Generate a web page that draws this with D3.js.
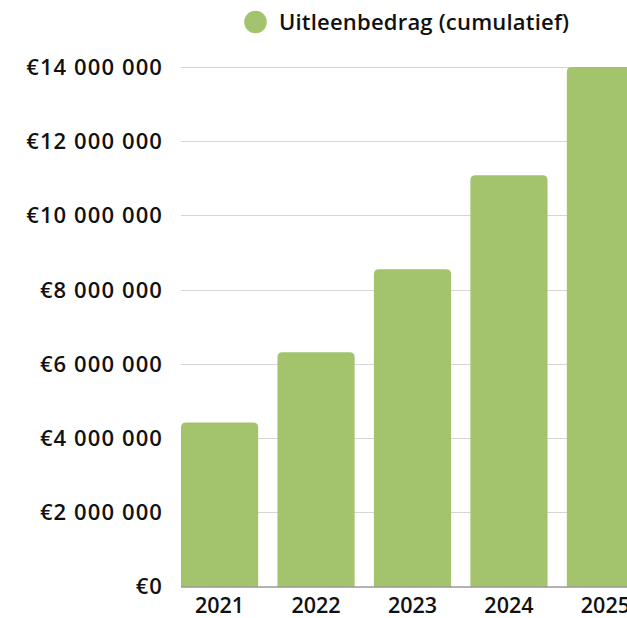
<!DOCTYPE html>
<html>
<head>
<meta charset="utf-8">
<script src="https://cdn.jsdelivr.net/npm/d3@7"></script>
<style>
  html, body { margin: 0; padding: 0; background: #fff; overflow: hidden; }
  svg { display: block; font-family: "Open Sans", Lato, "Noto Sans", sans-serif; }
</style>
</head>
<body>
<div id="chart"></div>
<script>
// data
const years = ["2021", "2022", "2023", "2024", "2025"];
const amounts = [4420000, 6310000, 8550000, 11080000, 14000000];
const yTicks = [0, 2000000, 4000000, 6000000, 8000000, 10000000, 12000000, 14000000];
const seriesName = "Uitleenbedrag (cumulatief)";

const W = 627, H = 618;
const margin = { top: 67, left: 181, bottom: 31.5 };
const plotRight = 644; // last bar runs past the window edge
const barColor = "#a3c46d";

const svg = d3.select("#chart").append("svg")
  .attr("width", W)
  .attr("height", H);

const euro = d3.formatLocale({ decimal: ",", thousands: " ", grouping: [3], currency: ["€", ""] });
const fmt = euro.format("$,.0f");

const x = d3.scaleBand()
  .domain(years)
  .range([margin.left, plotRight])
  .paddingInner(0.2)
  .paddingOuter(0);

const y = d3.scaleLinear()
  .domain([0, 14000000])
  .range([H - margin.bottom, margin.top]);

// gridlines
svg.append("g")
  .selectAll("line")
  .data(yTicks.slice(1))
  .join("line")
  .attr("x1", margin.left)
  .attr("x2", W)
  .attr("y1", d => Math.round(y(d)) + 0.5)
  .attr("y2", d => Math.round(y(d)) + 0.5)
  .attr("stroke", "#d6d6d6")
  .attr("stroke-width", 1);

// y labels
svg.append("g")
  .selectAll("text")
  .data(yTicks)
  .join("text")
  .attr("x", 163)
  .attr("y", d => y(d))
  .attr("dy", "0.36em")
  .attr("text-anchor", "end")
  .attr("font-size", 22)
  .attr("font-weight", 600)
  .attr("letter-spacing", 1.1)
  .attr("fill", "#111")
  .text(d => fmt(d));

// bars with rounded tops
const r = 5;
svg.append("g")
  .selectAll("path")
  .data(years.map((yr, i) => ({ year: yr, value: amounts[i] })))
  .join("path")
  .attr("fill", barColor)
  .attr("d", d => {
    const x0 = x(d.year), x1 = x0 + x.bandwidth();
    const y0 = y(0), y1 = y(d.value);
    return `M${x0},${y0}V${y1 + r}Q${x0},${y1} ${x0 + r},${y1}H${x1 - r}Q${x1},${y1} ${x1},${y1 + r}V${y0}Z`;
  });

// baseline
svg.append("line")
  .attr("x1", margin.left)
  .attr("x2", W)
  .attr("y1", y(0) + 0.5)
  .attr("y2", y(0) + 0.5)
  .attr("stroke", "#666")
  .attr("stroke-width", 1);

// x labels
svg.append("g")
  .selectAll("text")
  .data(years)
  .join("text")
  .attr("x", d => x(d) + x.bandwidth() / 2)
  .attr("y", 613)
  .attr("text-anchor", "middle")
  .attr("font-size", 21.5)
  .attr("font-weight", 600)
  .attr("fill", "#111")
  .text(d => d);

// legend
const legend = svg.append("g");
legend.append("circle")
  .attr("cx", 255.5)
  .attr("cy", 22)
  .attr("r", 11.3)
  .attr("fill", barColor);
legend.append("text")
  .attr("x", 279)
  .attr("y", 22)
  .attr("dy", "0.36em")
  .attr("font-size", 22)
  .attr("font-weight", 600)
  .attr("letter-spacing", 0.2)
  .attr("fill", "#111")
  .text(seriesName);
</script>
</body>
</html>
